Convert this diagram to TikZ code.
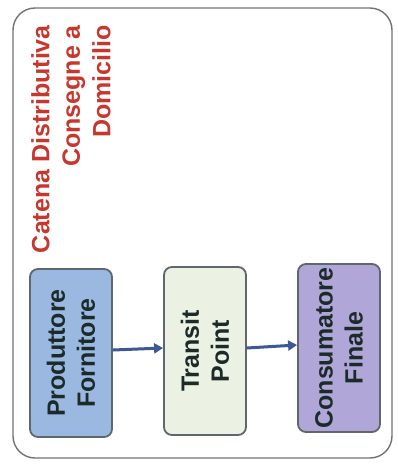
\documentclass[tikz,border=0pt]{standalone}
\usepackage{fontspec}
\setmainfont{Liberation Sans}
\usetikzlibrary{arrows.meta}
\definecolor{titlered}{HTML}{C8372D}
\definecolor{boxtext}{HTML}{1C2A2A}
\definecolor{boxedge}{HTML}{5E6670}
\definecolor{flowblue}{HTML}{3C5896}
\definecolor{fillblue}{HTML}{9BB9E0}
\definecolor{fillgreen}{HTML}{EBF1E3}
\definecolor{fillpurple}{HTML}{B0A6D8}
\begin{document}
\begin{tikzpicture}[x=1pt,y=-1pt,
  stage/.style={draw=boxedge, line width=1.8pt, rounded corners=8pt,
    rotate=90, minimum width=168pt, minimum height=82pt, inner sep=0pt,
    align=center, text=boxtext,
    font=\fontsize{25}{30}\selectfont\bfseries},
  flow/.style={draw=flowblue, line width=3pt,
    -{Triangle[length=9pt,width=10pt]}}]
  \useasboundingbox (0,0) rectangle (398,464);
  % outer frame
  \draw[draw=black!55, line width=1.4pt, rounded corners=22pt]
    (13,8) rectangle (392,458);
  % title
  \node[rotate=90, anchor=north east, inner sep=0pt, align=right,
    text=titlered, font=\fontsize{25}{30.5}\selectfont\bfseries]
    (title) at (31,25) {Catena Distributiva\\Consegne a\\Domicilio};
  % stages of the chain
  \node[stage, fill=fillblue] (prod) at (71,353) {Produttore\\Fornitore};
  \node[stage, fill=fillgreen] (transit) at (205,351) {Transit\\Point};
  \node[stage, fill=fillpurple] (cons) at (339,348) {Consumatore\\Finale};
  % flow arrows
  \draw[flow] ([yshift=3pt]prod.south) -- ([yshift=3pt]transit.north);
  \draw[flow] ([yshift=3pt]transit.south) -- ([yshift=3pt]cons.north);
\end{tikzpicture}
\end{document}
